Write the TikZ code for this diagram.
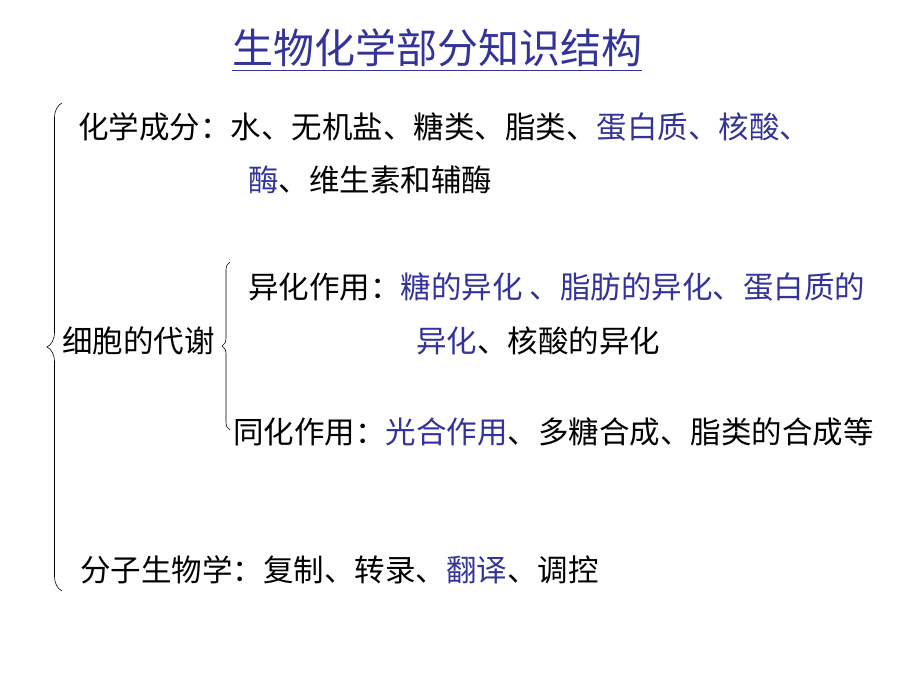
\documentclass[tikz,border=0pt]{standalone}
\usepackage{fontspec}
\newfontfamily\cjk{Noto Sans CJK SC}
\usetikzlibrary{positioning, decorations.pathreplacing}
\definecolor{keyblue}{HTML}{333399}
\newcommand{\hl}[1]{{\color{keyblue}#1}} % highlighted words
\tikzset{
x=1pt, y=-1pt, % pixel-like units, y grows downwards
line/.style={anchor=base west, inner sep=0pt, font=\cjk\fontsize{30.5}{36}\selectfont}, % one line of text
heading/.style={anchor=base west, inner sep=0pt, text=keyblue, font=\cjk\fontsize{41}{48}\selectfont},
brace/.style={decorate, decoration={brace, amplitude=#1}, line width=0.6pt},
}
\begin{document}
\begin{tikzpicture}
    \useasboundingbox (0,0) rectangle (920,690);

    \node[heading] (title) at (232,64) {生物化学部分知识结构};
    \draw[keyblue, line width=1.2pt] (title.west |- 0,70.5) -- (title.east |- 0,70.5);

    \node[line] (chem)  at (78,138)  {化学成分：水、无机盐、糖类、脂类、\hl{蛋白质、核酸、}};
    \node[line] (chem2) at (248,191) {\hl{酶}、维生素和辅酶};

    \node[line] (cata)  at (248,298) {异化作用：\hl{糖的异化 、脂肪的异化、蛋白质的}};
    \node[line] (cata2) at (416,352) {\hl{异化}、核酸的异化};
    \node[line] (meta)  at (62,352)  {细胞的代谢};
    \node[line] (anab)  at (233,443) {同化作用：\hl{光合作用}、多糖合成、脂类的合成等};

    \node[line] (mol)   at (80,581)  {分子生物学：复制、转录、\hl{翻译}、调控};

    % braces
    \coordinate (bigtop) at (62,103);
    \coordinate (bigbot) at (62,591);
    \coordinate (subtop) at (230,262);
    \coordinate (subbot) at (230,430);
    \draw[brace=15pt] (bigbot) -- (bigtop);
    \draw[brace=8pt]  (subbot) -- (subtop);
\end{tikzpicture}
\end{document}
